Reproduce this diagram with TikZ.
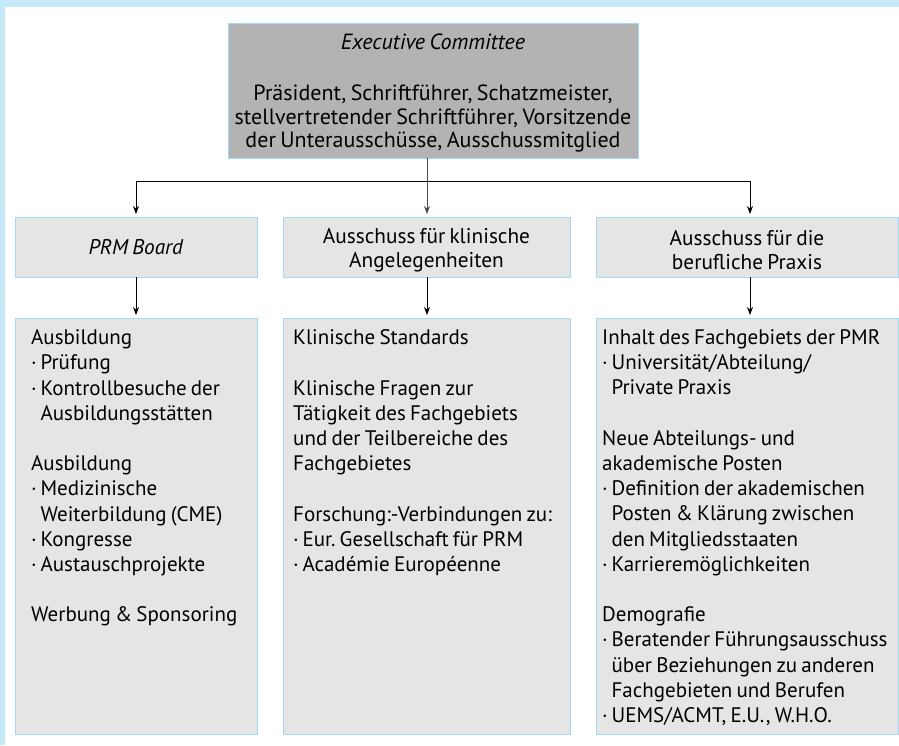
\documentclass[tikz,border=0pt]{standalone}
\usepackage{fontspec}
\setmainfont{PT Sans}[WordSpace=0.75]
\usetikzlibrary{arrows.meta}
\definecolor{frameblue}{HTML}{C6E9F9}
\definecolor{edgeblue}{HTML}{A3DAF3}
\definecolor{darkfill}{HTML}{B3B3B3}
\definecolor{lightfill}{HTML}{E5E5E5}
\newcommand{\bul}{·\hspace{0.18em}}
\newcommand{\ind}{\phantom{\bul}}
\frenchspacing
\begin{document}
\begin{tikzpicture}[x=1pt,y=-1pt,
  box/.style={draw=edgeblue,line width=0.8pt,fill=lightfill,rectangle,inner sep=0pt,outer sep=0pt},
  conn/.style={line width=0.8pt,-{Stealth[length=8pt,width=6pt]},shorten >=3pt},
  line/.style={line width=0.8pt},
  toptext/.style={align=center,inner sep=0pt,font=\fontsize{22}{24}\selectfont},
  headtext/.style={align=center,inner sep=0pt,font=\fontsize{21.3}{24}\selectfont},
  body/.style={anchor=north west,inner sep=0pt,align=left,font=\fontsize{21}{25.2}\selectfont}
]
\useasboundingbox (0,0) rectangle (899,745);
\fill[white] (0,0) rectangle (899,745);
\fill[frameblue] (0,0) rectangle (899,7.3);
\fill[frameblue] (0,0) rectangle (5,745);

% top box
\node[box,fill=darkfill,minimum width=410pt,minimum height=135pt] (exec) at (433,90.5) {};
\node[toptext] (exectext) at ([yshift=-2.5pt]exec.center)
 {\textit{Executive Committee}\\[27pt]Präsident, Schriftführer, Schatzmeister,\\[-0.5pt]stellvertretender Schriftführer, Vorsitzende\\[-0.5pt]der Unterausschüsse, Ausschussmitglied};

% second row
\node[box,minimum width=242pt,minimum height=60pt] (b1) at (136,247) {};
\node[box,minimum width=287pt,minimum height=60pt] (b2) at (426.5,247) {};
\node[box,minimum width=302pt,minimum height=60pt] (b3) at (747,247) {};
\node[headtext] (b1text) at (b1.center) {\textit{PRM Board}};
\node[headtext] (b2text) at ([yshift=-3pt]b2.center) {Ausschuss für klinische\\Angelegenheiten};
\node[headtext] (b3text) at ([yshift=-3pt]b3.center) {Ausschuss für die\\berufliche Praxis};

% third row
\node[box,minimum width=242pt,minimum height=416pt] (c1) at (136,526) {};
\node[box,minimum width=287pt,minimum height=416pt] (c2) at (426.5,526) {};
\node[box,minimum width=302pt,minimum height=416pt] (c3) at (747,526) {};

\node[body] (t1) at (31,329.5) {Ausbildung\\\bul Prüfung\\\bul Kontrollbesuche der\\\ind Ausbildungsstätten\\[25.2pt]Ausbildung\\\bul Medizinische\\\ind Weiterbildung (CME)\\\bul Kongresse\\\bul Austauschprojekte\\[25.2pt]Werbung \& Sponsoring};
\node[body] (t2) at (293,329.5) {Klinische Standards\\[25.2pt]Klinische Fragen zur\\Tätigkeit des Fachgebiets\\und der Teilbereiche des\\Fachgebietes\\[25.2pt]Forschung:-Verbindungen zu:\\\bul Eur. Gesellschaft für PRM\\\bul Académie Européenne};
\node[body] (t3) at (602,329.5) {Inhalt des Fachgebiets der PMR\\\bul Universität/Abteilung/\\\ind Private Praxis\\[25.2pt]Neue Abteilungs- und\\akademische Posten\\\bul Definition der akademischen\\\ind Posten \& Klärung zwischen\\\ind den Mitgliedsstaaten\\\bul Karrieremöglichkeiten\\[25.2pt]Demografie\\\bul Beratender Führungsausschuss\\\ind über Beziehungen zu anderen\\\ind Fachgebieten und Berufen\\\bul UEMS/ACMT, E.U., W.H.O.};

% connectors
\coordinate (j1) at (136,181);
\coordinate (j2) at (427,181);
\coordinate (j3) at (750,181);
\draw[line,draw=black!70] (exec.south -| j2) -- (j2);
\draw[line] (j1) -- (j3);
\draw[conn] (j1) -- (j1 |- b1.north);
\draw[conn,draw=black!70] (j2) -- (j2 |- b2.north);
\draw[conn] (j3) -- (j3 |- b3.north);
\draw[conn] (b1.south) -- (c1.north);
\draw[conn] (b2.south -| j2) -- (j2 |- c2.north);
\draw[conn] (b3.south -| j3) -- (j3 |- c3.north);
\end{tikzpicture}
\end{document}
